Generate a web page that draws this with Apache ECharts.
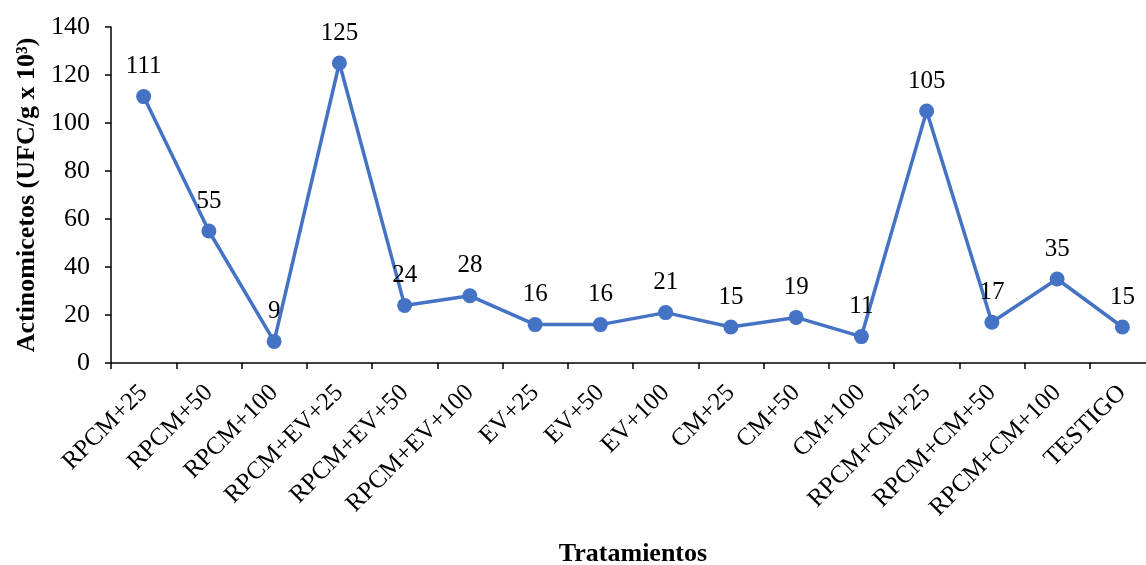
<!DOCTYPE html>
<html><head><meta charset="utf-8">
<script src="https://cdn.jsdelivr.net/npm/echarts@6/dist/echarts.min.js"></script>
<style>html,body{margin:0;padding:0;background:#fff}#c{width:1146px;height:565px}</style>
</head><body><div id="c"></div>
<script>
const categories = ["RPCM+25","RPCM+50","RPCM+100","RPCM+EV+25","RPCM+EV+50","RPCM+EV+100","EV+25","EV+50","EV+100","CM+25","CM+50","CM+100","RPCM+CM+25","RPCM+CM+50","RPCM+CM+100","TESTIGO"];
const values = [111,55,9,125,24,28,16,16,21,15,19,11,105,17,35,15];
const yTicks = {min:0, max:140, interval:20};
const font = "'Liberation Serif','Times New Roman',serif";
const chart = echarts.init(document.getElementById('c'));
chart.setOption({
  animation:false,
  grid:{left:111, right:-9, top:27, bottom:202, containLabel:false, outerBoundsMode:'none'},
  xAxis:{type:'category', data:categories, boundaryGap:true,
    name:'Tratamientos', nameLocation:'middle', nameGap:178,
    nameTextStyle:{fontFamily:font, fontWeight:'bold', fontSize:26, color:'#000'},
    axisLine:{lineStyle:{color:'#000', width:1.5}},
    axisTick:{show:true, alignWithLabel:false, length:6, lineStyle:{color:'#000', width:1.5}},
    axisLabel:{rotate:45, fontFamily:font, fontSize:25, color:'#000', margin:26, interval:0},
    splitLine:{show:false}},
  yAxis:{type:'value', min:yTicks.min, max:yTicks.max, interval:yTicks.interval,
    name:'Actinomicetos (UFC/g x 10³)', nameLocation:'middle', nameGap:69, nameRotate:90,
    nameTextStyle:{fontFamily:font, fontWeight:'bold', fontSize:26, color:'#000'},
    axisLine:{show:true, lineStyle:{color:'#000', width:1.5}},
    axisTick:{show:true, length:6, lineStyle:{color:'#000', width:1.5}},
    axisLabel:{fontFamily:font, fontSize:26, color:'#000', margin:21},
    splitLine:{show:false}},
  series:[{type:'line', data:values, symbol:'circle', symbolSize:15,
    lineStyle:{color:'#4472C4', width:3.5}, itemStyle:{color:'#4472C4'},
    label:{show:true, position:'top', distance:10, fontFamily:font, fontSize:25, color:'#000'}}]
});
</script></body></html>
